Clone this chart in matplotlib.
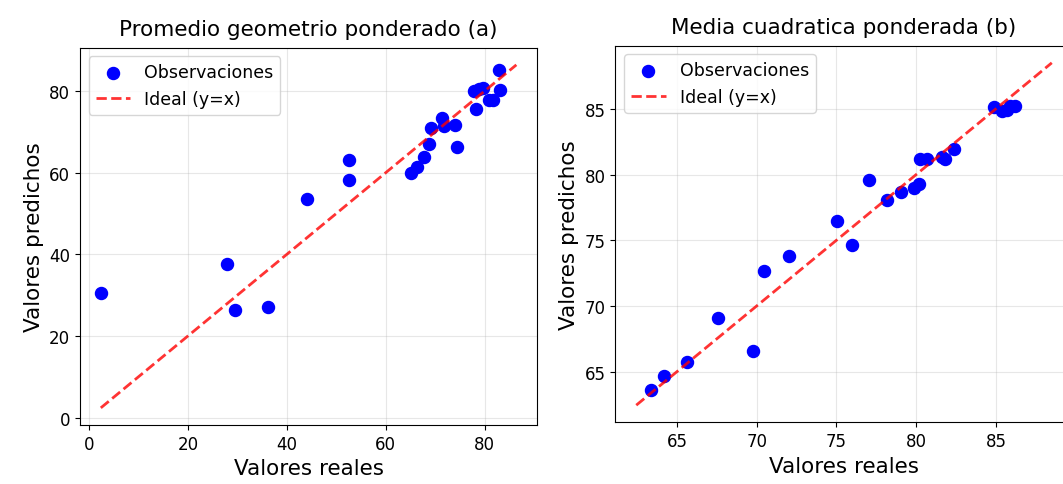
import matplotlib
matplotlib.use("Agg")
import matplotlib.pyplot as plt

# (a) Promedio geometrico ponderado
reales_a = [2.5, 28.0, 29.6, 36.2, 44.0, 52.5, 52.5, 65.2, 66.3, 67.8, 68.7,
            69.1, 71.3, 71.7, 74.0, 74.5, 78.3, 77.8, 78.8, 79.6, 80.9, 81.6,
            83.0, 82.9]
predichos_a = [30.5, 37.7, 26.4, 27.1, 53.6, 63.1, 58.2, 60.0, 61.5, 63.8, 66.9,
               71.0, 73.4, 71.5, 71.6, 66.2, 75.5, 80.0, 80.6, 80.7, 77.9, 77.8,
               80.3, 85.2]
ideal_a = [2.4, 86.4]

# (b) Media cuadratica ponderada
reales_b = [63.35, 64.2, 65.65, 67.6, 69.8, 70.45, 72.05, 75.05, 76.0, 77.05,
            78.2, 79.05, 79.85, 80.2, 80.25, 80.65, 81.6, 81.8, 82.35, 84.9,
            85.35, 85.7, 85.9, 86.2]
predichos_b = [63.6, 64.65, 65.75, 69.1, 66.6, 72.65, 73.8, 76.45, 74.65, 79.6,
               78.1, 78.65, 79.0, 79.3, 81.2, 81.2, 81.35, 81.15, 81.95, 85.15,
               84.8, 84.9, 85.2, 85.2]
ideal_b = [62.45, 88.5]

fig = plt.figure(figsize=(10.63, 4.85), dpi=100)
ax1 = fig.add_axes([0.0753, 0.1216, 0.43, 0.778])
ax2 = fig.add_axes([0.579, 0.1272, 0.43, 0.7765])

paneles = [
    (ax1, reales_a, predichos_a, ideal_a, "Promedio geometrio ponderado (a)"),
    (ax2, reales_b, predichos_b, ideal_b, "Media cuadratica ponderada (b)"),
]

for ax, x, y, ideal, titulo in paneles:
    ax.scatter(x, y, s=75, color="blue", label="Observaciones", zorder=3)
    ax.plot(ideal, ideal, "r--", lw=2, alpha=0.8, label="Ideal (y=x)", zorder=4)
    ax.set_xlabel("Valores reales", fontsize=15.5)
    ax.set_ylabel("Valores predichos", fontsize=15.5)
    ax.set_title(titulo, fontsize=15.5, pad=9)
    ax.tick_params(labelsize=12)
    ax.grid(True, alpha=0.3)
    ax.legend(loc="upper left", fontsize=12.5)

fig.savefig("out.png", dpi=100)
